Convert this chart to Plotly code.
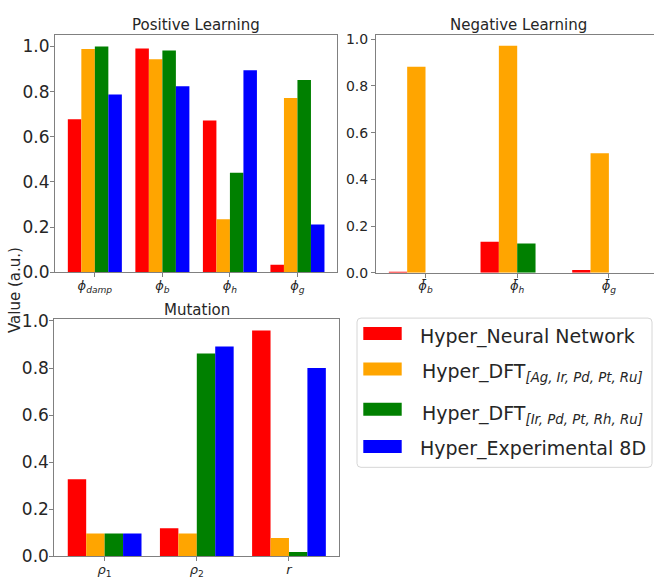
import plotly.graph_objects as go

W, H = 654, 582

# Series shared by all three panels
series_names = [
    "Hyper_Neural Network",
    "Hyper_DFT<sub><i>[Ag, Ir, Pd, Pt, Ru]</i></sub>",
    "Hyper_DFT<sub><i>[Ir, Pd, Pt, Rh, Ru]</i></sub>",
    "Hyper_Experimental 8D",
]
colors = ["#ff0000", "#ffa500", "#008000", "#0000ff"]

# Positive learning hyperparameters
pos_labels = ["<i>ϕ</i><sub><i>damp</i></sub>", "<i>ϕ</i><sub><i>b</i></sub>",
              "<i>ϕ</i><sub><i>h</i></sub>", "<i>ϕ</i><sub><i>g</i></sub>"]
pos_nn = [0.677, 0.991, 0.672, 0.033]
pos_dft_ag = [0.989, 0.943, 0.235, 0.772]
pos_dft_rh = [1.000, 0.982, 0.441, 0.851]
pos_exp = [0.787, 0.824, 0.894, 0.211]

# Negative learning hyperparameters
neg_labels = ["<i>ϕ̄</i><sub><i>b</i></sub>", "<i>ϕ̄</i><sub><i>h</i></sub>",
              "<i>ϕ̄</i><sub><i>g</i></sub>"]
neg_nn = [0.004, 0.133, 0.012]
neg_dft_ag = [0.882, 0.972, 0.512]
neg_dft_rh = [0.0, 0.126, 0.0]
neg_exp = [0.0, 0.0, 0.0]

# Mutation hyperparameters
mut_labels = ["<i>ρ</i><sub>1</sub>", "<i>ρ</i><sub>2</sub>", "<i>r</i>"]
mut_nn = [0.328, 0.120, 0.960]
mut_dft_ag = [0.098, 0.098, 0.078]
mut_dft_rh = [0.098, 0.862, 0.019]
mut_exp = [0.098, 0.892, 0.800]

FONT = "DejaVu Sans"
TEXT = "#262626"
SPINE = "#808080"


def px_x(x):
    return x / W


def px_y(y):
    return (H - y) / H


fig = go.Figure()

panels = [
    ("x", "y", pos_labels, [pos_nn, pos_dft_ag, pos_dft_rh, pos_exp]),
    ("x2", "y2", neg_labels, [neg_nn, neg_dft_ag, neg_dft_rh, neg_exp]),
    ("x3", "y3", mut_labels, [mut_nn, mut_dft_ag, mut_dft_rh, mut_exp]),
]
for xa, ya, labels, groups in panels:
    idx = list(range(len(labels)))
    for name, color, vals in zip(series_names, colors, groups):
        fig.add_trace(go.Bar(x=idx, y=vals, name=name, marker=dict(color=color, line=dict(width=0)),
                             xaxis=xa, yaxis=ya, showlegend=False))

common = dict(showline=True, linecolor=SPINE, linewidth=1, ticks="outside", ticklen=4,
              tickwidth=1, tickcolor=SPINE, showgrid=False, zeroline=False)
ytick_vals = [0, 0.2, 0.4, 0.6, 0.8, 1.0]

fig.update_layout(
    width=W, height=H,
    margin=dict(l=0, r=0, t=0, b=0),
    paper_bgcolor="white", plot_bgcolor="white",
    barmode="group", bargap=0.2, bargroupgap=0,
    font=dict(family=FONT, color=TEXT),
    xaxis=dict(domain=[px_x(55), px_x(337.3)], anchor="y", range=[-0.59, 3.59],
               tickvals=list(range(4)), ticktext=pos_labels, mirror=True, ticklabelstandoff=-3,
               tickfont=dict(size=13, color=TEXT), **common),
    yaxis=dict(domain=[px_y(272.7), px_y(28)], anchor="x", range=[0, 1.05],
               tickvals=ytick_vals, tickformat=".1f", mirror=True, ticklabelstandoff=-3,
               tickfont=dict(size=17, color=TEXT), **common),
    xaxis2=dict(domain=[px_x(376), 1.0], anchor="y2", range=[-0.54, 2.492],
                tickvals=list(range(3)), ticktext=neg_labels, mirror=True, ticklabelstandoff=-3,
                tickfont=dict(size=13, color=TEXT), **common),
    yaxis2=dict(domain=[px_y(273.3), px_y(27.7)], anchor="x2", range=[0, 1.0185],
                tickvals=ytick_vals, tickformat=".1f", mirror=False,
                tickfont=dict(size=14, color=TEXT), **common),
    xaxis3=dict(domain=[px_x(54.3), px_x(339.3)], anchor="y3", range=[-0.546, 2.546],
                tickvals=list(range(3)), ticktext=mut_labels, mirror=True, ticklabelstandoff=-3,
                tickfont=dict(size=13, color=TEXT), **common),
    yaxis3=dict(domain=[px_y(566), px_y(321)], anchor="x3", range=[0, 1.008],
                tickvals=ytick_vals, tickformat=".1f", mirror=True, ticklabelstandoff=-3,
                tickfont=dict(size=17, color=TEXT), **common),
)

annotations = []
# Panel titles
for text, cx, cy in [("Positive Learning", 196, 17.3), ("Negative Learning", 518, 17.3),
                     ("Mutation", 196.7, 311.5)]:
    annotations.append(dict(text=text, x=px_x(cx), y=px_y(cy), xref="paper", yref="paper",
                            xanchor="center", yanchor="middle", showarrow=False,
                            font=dict(size=15, color=TEXT, family=FONT)))
# Shared y-axis label
annotations.append(dict(text="Value (a.u.)", x=px_x(15), y=px_y(291), xref="paper", yref="paper",
                        xanchor="center", yanchor="middle", textangle=-90, showarrow=False,
                        font=dict(size=15, color=TEXT, family=FONT)))

# Legend box with colour patches
shapes = []
bx0, bx1, by0, by1, r = 357, 652, 320, 474, 4
path = (f"M {px_x(bx0 + r)},{px_y(by0)} L {px_x(bx1 - r)},{px_y(by0)} "
        f"Q {px_x(bx1)},{px_y(by0)} {px_x(bx1)},{px_y(by0 + r)} "
        f"L {px_x(bx1)},{px_y(by1 - r)} Q {px_x(bx1)},{px_y(by1)} {px_x(bx1 - r)},{px_y(by1)} "
        f"L {px_x(bx0 + r)},{px_y(by1)} Q {px_x(bx0)},{px_y(by1)} {px_x(bx0)},{px_y(by1 - r)} "
        f"L {px_x(bx0)},{px_y(by0 + r)} Q {px_x(bx0)},{px_y(by0)} {px_x(bx0 + r)},{px_y(by0)} Z")
shapes.append(dict(type="path", path=path, xref="paper", yref="paper",
                   line=dict(color="#d6d6d6", width=1), fillcolor="rgba(255,255,255,0.8)"))

patch_tops = [329.3, 365.7, 407.3, 445.7]
text_centers = [339, 376, 419, 455]
text_x = [418, 420, 420, 418]
for name, color, pt, tc, tx in zip(series_names, colors, patch_tops, text_centers, text_x):
    shapes.append(dict(type="rect", xref="paper", yref="paper",
                       x0=px_x(363.3), x1=px_x(401.7), y0=px_y(pt + 13.4), y1=px_y(pt),
                       fillcolor=color, line=dict(width=0)))
    annotations.append(dict(text=name, x=px_x(tx), y=px_y(tc), xref="paper", yref="paper",
                            xanchor="left", yanchor="middle", showarrow=False,
                            font=dict(size=19, color=TEXT, family=FONT)))

fig.update_layout(annotations=annotations, shapes=shapes)

fig.write_html("out.html")
